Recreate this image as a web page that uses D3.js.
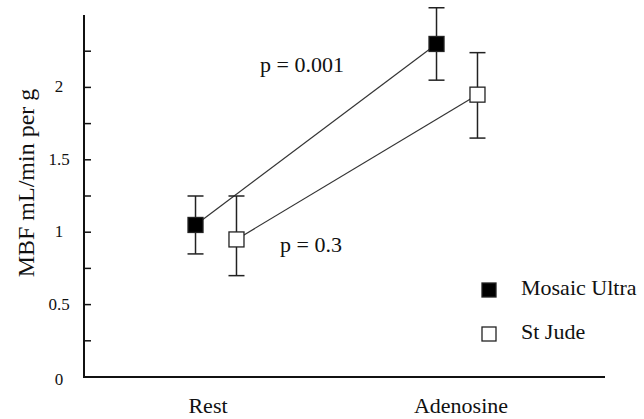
<!DOCTYPE html>
<html>
<head>
<meta charset="utf-8">
<script src="https://cdn.jsdelivr.net/npm/d3@7"></script>
<style>
  body { margin: 0; background: #fff; }
</style>
</head>
<body>
<svg id="chart" width="644" height="419" font-family="'Liberation Serif', 'DejaVu Serif', serif"></svg>
<script>
// chart values
const conditions = ['Rest', 'Adenosine']
const seriesNames = ['Mosaic Ultra', 'St Jude']
const mosaicMean = [1.05, 2.3]
const mosaicLow = [0.85, 2.05]
const mosaicHigh = [1.25, 2.55]
const stJudeMean = [0.95, 1.95]
const stJudeLow = [0.7, 1.65]
const stJudeHigh = [1.25, 2.24]
const yTickLabels = [0, 0.5, 1, 1.5, 2]
const yMinorTicks = [0.25, 0.5, 0.75, 1, 1.25, 1.5, 1.75, 2, 2.25]
const pLabels = ['p = 0.001', 'p = 0.3']

const svg = d3.select('#chart')
const serif = "'Liberation Serif', 'DejaVu Serif', serif"
const ink = '#111'

// scales
const y = d3.scaleLinear().domain([0, 2.5]).range([377, 15])
const x = d3.scaleLinear().domain([0, 1]).range([216, 457])
const dodge = [-0.085, 0.085]

const series = [
  { name: seriesNames[0], mean: mosaicMean, low: mosaicLow, high: mosaicHigh, fill: '#000' },
  { name: seriesNames[1], mean: stJudeMean, low: stJudeLow, high: stJudeHigh, fill: '#fff' }
]

// axes
svg.append('line')
  .attr('x1', 84).attr('x2', 84)
  .attr('y1', y(2.5)).attr('y2', y(0))
  .attr('stroke', ink).attr('stroke-width', 2)
svg.append('line')
  .attr('x1', 83).attr('x2', 605)
  .attr('y1', y(0)).attr('y2', y(0))
  .attr('stroke', ink).attr('stroke-width', 2)

// inward ticks on the y axis
svg.selectAll('line.tick')
  .data(yMinorTicks)
  .join('line')
  .attr('class', 'tick')
  .attr('x1', 84).attr('x2', 91)
  .attr('y1', d => y(d)).attr('y2', d => y(d))
  .attr('stroke', ink).attr('stroke-width', 1.5)

svg.selectAll('text.ylab')
  .data(yTickLabels)
  .join('text')
  .attr('class', 'ylab')
  .attr('x', 59)
  .attr('y', d => y(d) + (d === 0 ? 8 : 5))
  .attr('text-anchor', 'middle')
  .attr('font-family', serif)
  .attr('fill', ink)
  .style('font-size', '17px')
  .text(d => d)

svg.append('text')
  .attr('transform', `translate(34,${(y(0) + y(2.5)) / 2 - 13}) rotate(-90)`)
  .attr('text-anchor', 'middle')
  .attr('font-family', serif)
  .attr('fill', ink)
  .style('font-size', '24px')
  .text('MBF mL/min per g')

// category labels
svg.selectAll('text.xlab')
  .data(conditions)
  .join('text')
  .attr('class', 'xlab')
  .attr('x', (d, i) => x(i) + (i === 0 ? -8 : 4))
  .attr('y', 413)
  .attr('text-anchor', 'middle')
  .attr('font-family', serif)
  .attr('fill', ink)
  .style('font-size', '22px')
  .text(d => d)

// connecting lines
series.forEach((s, k) => {
  svg.append('line')
    .attr('x1', x(0 + dodge[k])).attr('y1', y(s.mean[0]))
    .attr('x2', x(1 + dodge[k])).attr('y2', y(s.mean[1]))
    .attr('stroke', '#333').attr('stroke-width', 1.2)
})

// error bars and markers
const size = 15
series.forEach((s, k) => {
  const g = svg.append('g')
  const pts = conditions.map((c, i) => ({ i, mean: s.mean[i], low: s.low[i], high: s.high[i] }))
  const cx = d => x(d.i + dodge[k])

  g.selectAll('line.err')
    .data(pts)
    .join('line')
    .attr('class', 'err')
    .attr('x1', cx).attr('x2', cx)
    .attr('y1', d => y(d.low)).attr('y2', d => y(d.high))
    .attr('stroke', '#222').attr('stroke-width', 1.5)

  g.selectAll('line.capHi')
    .data(pts)
    .join('line')
    .attr('class', 'capHi')
    .attr('x1', d => cx(d) - 8).attr('x2', d => cx(d) + 8)
    .attr('y1', d => y(d.high)).attr('y2', d => y(d.high))
    .attr('stroke', '#222').attr('stroke-width', 1.5)

  g.selectAll('line.capLo')
    .data(pts)
    .join('line')
    .attr('class', 'capLo')
    .attr('x1', d => cx(d) - 8).attr('x2', d => cx(d) + 8)
    .attr('y1', d => y(d.low)).attr('y2', d => y(d.low))
    .attr('stroke', '#222').attr('stroke-width', 1.5)

  g.selectAll('rect')
    .data(pts)
    .join('rect')
    .attr('x', d => cx(d) - size / 2)
    .attr('y', d => y(d.mean) - size / 2)
    .attr('width', size).attr('height', size)
    .attr('fill', s.fill)
    .attr('stroke', '#222').attr('stroke-width', 1.3)
})

// p-value annotations
svg.append('text')
  .attr('x', 260).attr('y', 72)
  .attr('font-family', serif)
  .attr('fill', ink)
  .style('font-size', '22px')
  .text(pLabels[0])
svg.append('text')
  .attr('x', 280).attr('y', 252)
  .attr('font-family', serif)
  .attr('fill', ink)
  .style('font-size', '22px')
  .text(pLabels[1])

// legend
const legend = svg.selectAll('g.legend')
  .data(series)
  .join('g')
  .attr('class', 'legend')
  .attr('transform', (d, i) => `translate(482,${283 + i * 44})`)

legend.append('rect')
  .attr('width', 14).attr('height', 14)
  .attr('fill', d => d.fill)
  .attr('stroke', '#222').attr('stroke-width', 1.3)

legend.append('text')
  .attr('x', 39).attr('y', 12)
  .attr('font-family', serif)
  .attr('fill', ink)
  .style('font-size', '22px')
  .text(d => d.name)
</script>
</body>
</html>
